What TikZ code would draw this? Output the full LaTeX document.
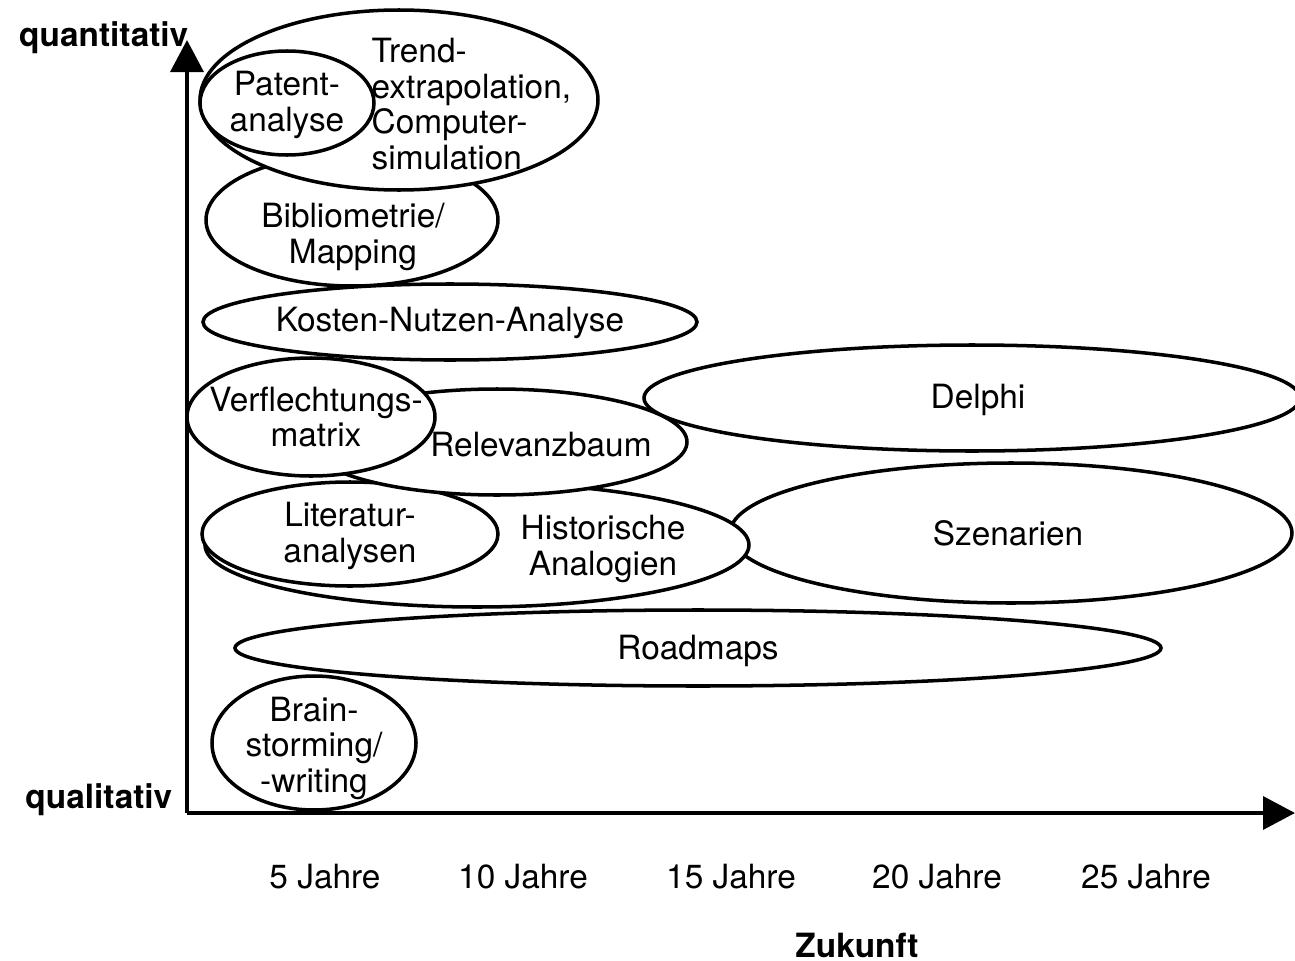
\documentclass[tikz,border=0pt]{standalone}
\usepackage{fontspec}
\setmainfont{TeX Gyre Heros}
\usetikzlibrary{arrows.meta}

\tikzset{
  method/.style={draw, fill=white, line width=1pt},
  lbl/.style={font=\fontsize{9.5}{10.1}\selectfont, align=center, inner sep=0pt},
  axislbl/.style={font=\fontsize{9.5}{11}\selectfont\bfseries, inner sep=0pt},
  axisline/.style={line width=1pt, -{Triangle[length=0.32cm, width=0.33cm]}}
}

\begin{document}
\begin{tikzpicture}

\useasboundingbox (0,0) rectangle (12.95,9.6);

% ---- Method ellipses (back to front) ----
\foreach \cx/\cy/\rx/\ry in {
    9.72/5.62/3.28/0.53,  10.11/4.27/2.81/0.70,
    4.77/4.15/2.72/0.62,  3.50/4.26/1.48/0.52,
    4.97/5.18/1.90/0.53,  4.50/6.38/2.47/0.38,
    3.11/5.43/1.24/0.59,  6.98/3.12/4.63/0.38,
    3.14/2.17/1.02/0.67,  3.52/7.40/1.46/0.66,
    3.99/8.60/1.99/0.90,  2.87/8.57/0.87/0.52
}{
    \filldraw[method] (\cx,\cy) ellipse ({\rx} and {\ry});
}

% ---- Method labels ----
\node[lbl, align=left, anchor=west] (trend) at (3.71,8.56)
    {Trend-\\extrapolation,\\Computer-\\simulation};
\node[lbl] (patent) at (2.87,8.55) {Patent-\\analyse};
\node[lbl] (biblio) at (3.53,7.23) {Bibliometrie/\\Mapping};
\node[lbl] (kosten) at (4.50,6.37) {Kosten-Nutzen-Analyse};
\node[lbl] (verfl) at (3.16,5.43) {Verflechtungs-\\matrix};
\node[lbl] (relev) at (5.41,5.15) {Relevanzbaum};
\node[lbl] (delphi) at (9.78,5.60) {Delphi};
\node[lbl] (szen) at (10.08,4.27) {Szenarien};
\node[lbl] (litera) at (3.50,4.24) {Literatur-\\analysen};
\node[lbl] (histor) at (6.03,4.11) {Historische\\Analogien};
\node[lbl] (roadmaps) at (6.98,3.09) {Roadmaps};
\node[lbl] (brain) at (3.14,2.12) {Brain-\\storming/\\-writing};

% ---- Axes ----
\coordinate (origin) at (1.87,1.47);
\coordinate (ytip) at (1.87,9.20);
\coordinate (xtip) at (12.95,1.47);
\draw[axisline] (origin) -- (ytip);
\draw[axisline] (origin) -- (xtip);

\node[axislbl, anchor=east] (quanti) at (1.89,9.22) {quantitativ};
\node[axislbl, anchor=east] (quali) at (1.73,1.60) {qualitativ};
\node[axislbl] (zukunft) at (8.57,0.15) {Zukunft};

% Time marks
\foreach \i/\px in {5/3.25, 10/5.23, 15/7.31, 20/9.37, 25/11.46}{
    \node[lbl] (yr\i) at (\px,0.83) {\i{} Jahre};
}

\end{tikzpicture}
\end{document}
